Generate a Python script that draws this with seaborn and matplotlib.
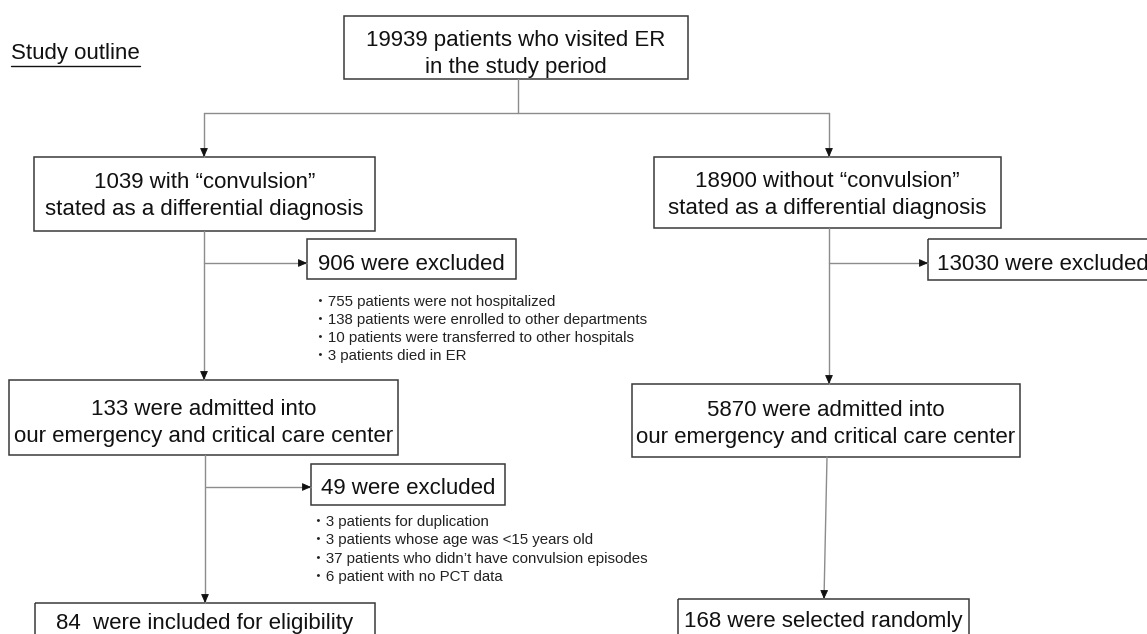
import numpy as np
import pandas as pd
import matplotlib
matplotlib.use("Agg")
import matplotlib.pyplot as plt
from matplotlib.patches import Rectangle
import seaborn as sns

# patient counts
ER_VISITS = 19939
WITH_CONV = 1039
WITHOUT_CONV = 18900
EXCLUDED_WITH = 906
EXCLUDED_WITHOUT = 13030
ADMITTED_WITH = 133
ADMITTED_WITHOUT = 5870
EXCLUDED_ADMITTED = 49
INCLUDED = 84
SELECTED = 168

ER_REASON_COUNTS = [755, 138, 10, 3]
ER_REASON_TEXTS = [
    "patients were not hospitalized",
    "patients were enrolled to other departments",
    "patients were transferred to other hospitals",
    "patients died in ER",
]
ADMIT_REASON_COUNTS = [3, 3, 37, 6]
ADMIT_REASON_TEXTS = [
    "patients for duplication",
    "patients whose age was <15 years old",
    "patients who didn\u2019t have convulsion episodes",
    "patient with no PCT data",
]

# layout in pixels (x0, y0, x1, y1), y measured downwards
BOXES = {
    "top": (344, 16, 688, 79),
    "with": (34, 157, 375, 231),
    "without": (654, 157, 1001, 228),
    "excl_with": (307, 239, 516, 279),
    "excl_without": (928, 239, 1165, 280),
    "adm_with": (9, 380, 398, 455),
    "adm_without": (632, 384, 1020, 457),
    "excl_adm": (311, 464, 505, 505),
    "included": (35, 603, 375, 670),
    "selected": (678, 599, 969, 670),
}

W, H = 1147, 634
MAIN_FS = 16
NOTE_FS = 10.8
EDGE = "#3a3a3a"
LINK = "#8c8c8c"

sns.set_theme(style="white")
plt.rcParams["font.family"] = ["Liberation Sans", "Noto Sans CJK JP", "DejaVu Sans"]


def draw_box(ax, key, text, ty=None, tx=None, ha="center"):
    x0, y0, x1, y1 = BOXES[key]
    ax.add_patch(Rectangle((x0, y0), x1 - x0, y1 - y0, fill=False,
                           edgecolor=EDGE, linewidth=1.1, clip_on=False))
    cx = (x0 + x1) / 2 if tx is None else tx
    cy = (y0 + y1) / 2 if ty is None else ty
    ax.text(cx, cy, text, ha=ha, va="center", fontsize=MAIN_FS,
            color="#111111", linespacing=1.42)


def arrow_head(ax, start, end):
    d = np.array(end, float) - np.array(start, float)
    d /= np.linalg.norm(d)
    tail = np.array(end) - d * 7
    ax.annotate("", xy=end, xytext=tail,
                arrowprops=dict(arrowstyle="-|>,head_length=0.45,head_width=0.2",
                                color="#111111", lw=0.6, shrinkA=0, shrinkB=0))


def main() -> None:
    fig = plt.figure(figsize=(W / 100, H / 100), dpi=100)
    ax = fig.add_axes([0, 0, 1, 1])

    # connector segments: (start, end, has_arrow)
    segments = [
        ((518, 79), (518, 113), False),
        ((204, 113), (829, 113), False),
        ((204, 113), (204, 157), True),
        ((829, 113), (829, 157), True),
        ((204, 231), (204, 380), True),
        ((204, 263), (307, 263), True),
        ((829, 228), (829, 384), True),
        ((829, 263), (928, 263), True),
        ((205, 455), (205, 603), True),
        ((206, 487), (311, 487), True),
        ((827, 457), (824, 599), True),
    ]
    rows = []
    for i, (s, e, _) in enumerate(segments):
        rows.append({"seg": i, "x": s[0], "y": s[1]})
        rows.append({"seg": i, "x": e[0], "y": e[1]})
    links = pd.DataFrame(rows)
    sns.lineplot(data=links, x="x", y="y", units="seg", estimator=None, sort=False,
                 color=LINK, linewidth=1.0, ax=ax, legend=False)
    ax.set_xlim(0, W)
    ax.set_ylim(H, 0)
    ax.axis("off")
    for s, e, has_arrow in segments:
        if has_arrow:
            arrow_head(ax, s, e)

    draw_box(ax, "top", f"{ER_VISITS} patients who visited ER\nin the study period", ty=54)
    draw_box(ax, "with", f"{WITH_CONV} with \u201cconvulsion\u201d\nstated as a differential diagnosis", ty=196)
    draw_box(ax, "without", f"{WITHOUT_CONV} without \u201cconvulsion\u201d\nstated as a differential diagnosis", ty=195)
    draw_box(ax, "excl_with", f"{EXCLUDED_WITH} were excluded", ty=264)
    draw_box(ax, "excl_without", f"{EXCLUDED_WITHOUT} were excluded", ty=264, tx=937, ha="left")
    draw_box(ax, "adm_with", f"{ADMITTED_WITH} were admitted into\nour emergency and critical care center", ty=423)
    draw_box(ax, "adm_without", f"{ADMITTED_WITHOUT} were admitted into\nour emergency and critical care center", ty=424)
    draw_box(ax, "excl_adm", f"{EXCLUDED_ADMITTED} were excluded", ty=489)
    draw_box(ax, "included", f"{INCLUDED}  were included for eligibility", ty=623)
    draw_box(ax, "selected", f"{SELECTED} were selected randomly", ty=622)

    for k, (n, txt) in enumerate(zip(ER_REASON_COUNTS, ER_REASON_TEXTS)):
        ax.text(313, 302 + 18 * k, f"\u30fb{n} {txt}", ha="left", va="center",
                fontsize=NOTE_FS, color="#222222")
    for k, (n, txt) in enumerate(zip(ADMIT_REASON_COUNTS, ADMIT_REASON_TEXTS)):
        ax.text(311, 522 + 18.4 * k, f"\u30fb{n} {txt}", ha="left", va="center",
                fontsize=NOTE_FS, color="#222222")

    title = ax.text(11, 53, "Study outline", ha="left", va="center",
                    fontsize=MAIN_FS, color="#111111")
    fig.canvas.draw()
    bb = title.get_window_extent().transformed(ax.transData.inverted())
    ax.plot([bb.x0, bb.x1], [66, 66], color="#111111", linewidth=1.0)

    fig.savefig("out.png", dpi=100)
    plt.close(fig)


if __name__ == "__main__":
    main()
